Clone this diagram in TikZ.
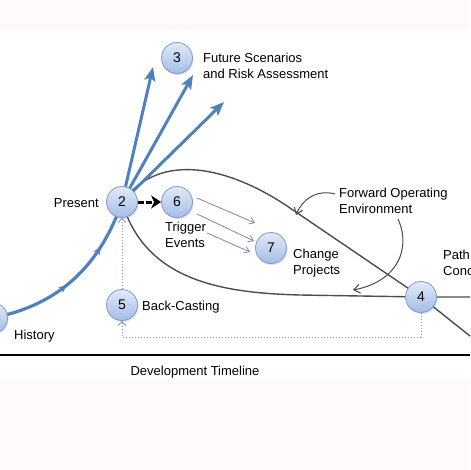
\documentclass[tikz,border=0pt]{standalone}
\usepackage{fontspec}
\setmainfont{Liberation Sans}
\usetikzlibrary{arrows.meta,decorations.markings,shadows}
\definecolor{bgpink}{HTML}{FFF9F9}
\definecolor{bluel}{HTML}{4F81BD}
\definecolor{nodetop}{HTML}{E2EAF7}
\definecolor{nodebot}{HTML}{A3BDE6}
\definecolor{nodeborder}{HTML}{7E9DCC}
\definecolor{darkline}{HTML}{4D4D4D}
\definecolor{purp}{HTML}{8E7CB0}
\definecolor{dotblue}{HTML}{7D9CC4}
\pgfdeclarelayer{bg}
\pgfsetlayers{bg,main}
\begin{document}
\begin{tikzpicture}[x=1pt,y=-1pt,
  font=\fontsize{13}{15.5}\selectfont,
  num/.style={circle, minimum size=31pt, inner sep=0pt, draw=nodeborder, line width=0.8pt,
    top color=nodetop, bottom color=nodebot,
    drop shadow={opacity=0.25, shadow xshift=1pt, shadow yshift=-1.5pt},
    font=\fontsize{14}{14}\selectfont},
  lbl/.style={inner sep=0pt, align=left, anchor=west},
  bluepath/.style={draw=bluel, line width=3.2pt},
  bluearrow/.style={draw=bluel, line width=3pt, -{Stealth[length=14pt,width=11pt,inset=3pt]}},
  midarrows/.style={postaction={decorate}, decoration={markings,
      mark=at position 0.45 with {\arrow{Stealth[length=8pt,width=7pt,inset=2pt]}},
      mark=at position 0.73 with {\arrow{Stealth[length=8pt,width=7pt,inset=2pt]}}}},
  curveline/.style={draw=darkline, line width=1.4pt},
  purparrow/.style={draw=purp, line width=0.8pt, -{Straight Barb[length=5pt,width=7pt]}},
  dotline/.style={draw=dotblue, line width=0.9pt, dash pattern=on 1.5pt off 1.5pt},
  noteline/.style={draw=darkline, line width=1pt, -{Straight Barb[length=6pt,width=9pt]}}
]
\useasboundingbox (0,0) rectangle (470,470);
\fill[bgpink] (0,0) rectangle (470,30);
\fill[bgpink] (0,381) rectangle (470,470);

% nodes
\node[num] (n1) at (-8,318) {1};
\node[num] (n2) at (122,202) {2};
\node[num] (n3) at (177,58) {3};
\node[num] (n4) at (421,297) {4};
\node[num] (n5) at (122,305) {5};
\node[num] (n6) at (177,202) {6};
\node[num] (n7) at (271,248) {7};

% labels
\node[lbl] (l3) at (203,66) {Future Scenarios\\and Risk Assessment};
\node[inner sep=0pt, anchor=east] (l2) at (99,203) {Present};
\node[lbl] (l6) at (165,235) {Trigger\\Events};
\node[lbl] (l7) at (293,263) {Change\\Projects};
\node[lbl] (l4) at (443,263) {Path\\Conc};
\node[lbl] (l5) at (142,307) {Back-Casting};
\node[lbl] (l1) at (14,336) {History};
\node[inner sep=0pt] (tl) at (195,372) {Development Timeline};
\node[lbl] (fwd) at (339,201) {Forward Operating\\Environment};

% free ends
\coordinate (t1) at (153,67);
\coordinate (t2) at (193,75);
\coordinate (t3) at (224,102);
\coordinate (cA) at (290,208);
\coordinate (cAend) at (470,336);
\coordinate (cBend) at (470,297);
\coordinate (c45) at (421,337);
\coordinate (tlL) at (0,355);
\coordinate (tlR) at (470,355);
\coordinate (pa1) at (197,198);
\coordinate (pb1) at (255,223);
\coordinate (pa2) at (197,214);
\coordinate (pb2) at (254,241);
\coordinate (pa3) at (207,233);
\coordinate (pb3) at (250,252);
\coordinate (fa) at (335,194);
\coordinate (fb) at (296,215);
\coordinate (ea) at (398,219);
\coordinate (eb) at (353,290);

\begin{pgfonlayer}{bg}
  % development timeline
  \draw[black, line width=2pt] (tlL) -- (tlR);
  % dark loop curves
  \draw[curveline] (n2.center) .. controls (160,150) and (230,167) .. (cA) -- (n4.center) -- (cAend);
  \draw[curveline] (n2.center) .. controls (145,280) and (220,293) .. (300,295) -- (n4.center) -- (cBend);
  % blue history curve and fan
  \draw[bluepath, midarrows] (n1.center) .. controls (60,305) and (100,265) .. (n2.center);
  \draw[bluearrow] (n2.center) -- (t1);
  \draw[bluearrow] (n2.center) -- (t2);
  \draw[bluearrow] (n2.center) -- (t3);
\end{pgfonlayer}

% trigger arrow 2 -> 6
\draw[black, line width=3pt, dash pattern=on 6pt off 2pt, -{Stealth[length=10pt,width=13pt,inset=3pt]}] (n2) -- (n6);
% purple arrows
\draw[purparrow] (pa1) -- (pb1);
\draw[purparrow] (pa2) -- (pb2);
\draw[purparrow] (pa3) -- (pb3);
% annotation arrows
\draw[noteline] (fa) .. controls (316,189) and (302,200) .. (fb);
\draw[noteline] (ea) .. controls (412,250) and (396,282) .. (eb);
% back-casting dotted
\draw[dotline, -{Straight Barb[length=4pt,width=8pt]}] (n4) -- (c45) -| (n5);
\draw[dotline, -{Straight Barb[length=4pt,width=8pt]}] (n5) -- (n2);
\end{tikzpicture}
\end{document}
